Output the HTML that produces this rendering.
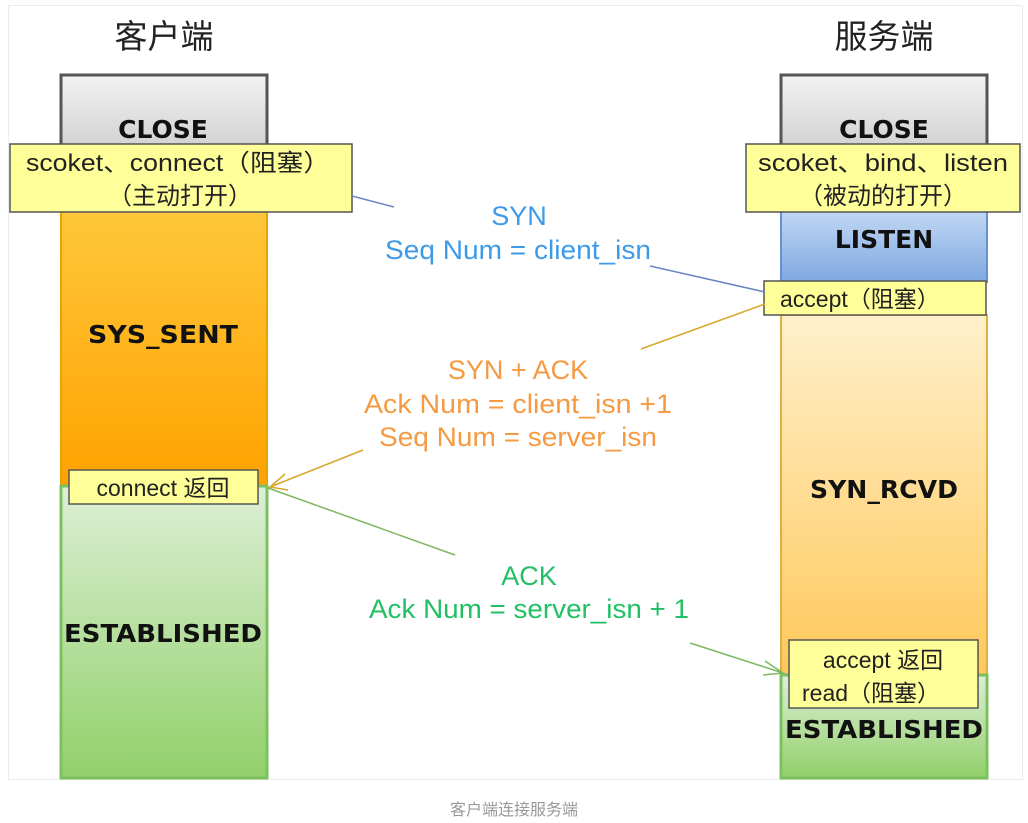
<!DOCTYPE html>
<html><head><meta charset="utf-8"><style>
html,body{margin:0;padding:0;background:#fff;width:1028px;height:823px;overflow:hidden}
text{font-family:"Liberation Sans","Noto Sans CJK SC",sans-serif}
.st{font-family:"DejaVu Sans","Liberation Sans",sans-serif;font-weight:bold;font-size:25px;fill:#111}
</style></head><body>
<svg width="1028" height="823" xmlns="http://www.w3.org/2000/svg">
<defs>
<linearGradient id="gray" x1="0" y1="0" x2="0" y2="1"><stop offset="0" stop-color="#f2f2f2"/><stop offset="1" stop-color="#cfcfcf"/></linearGradient>
<linearGradient id="org" x1="0" y1="0" x2="0" y2="1"><stop offset="0" stop-color="#ffc73a"/><stop offset="1" stop-color="#ffa200"/></linearGradient>
<linearGradient id="grn" x1="0" y1="0" x2="0" y2="1"><stop offset="0" stop-color="#dcefd6"/><stop offset="1" stop-color="#92d06a"/></linearGradient>
<linearGradient id="blu" x1="0" y1="0" x2="0" y2="1"><stop offset="0" stop-color="#c2d8f4"/><stop offset="1" stop-color="#7fa8e0"/></linearGradient>
<linearGradient id="lorg" x1="0" y1="0" x2="0" y2="1"><stop offset="0" stop-color="#fff0cc"/><stop offset="1" stop-color="#ffc85a"/></linearGradient>
</defs>
<rect x="8.5" y="5.5" width="1014" height="774" fill="#fff" stroke="#ebebeb"/>
<text x="164" y="48" font-size="33" text-anchor="middle" fill="#222">客户端</text>
<text x="884" y="48" font-size="33" text-anchor="middle" fill="#222">服务端</text>

<rect x="61" y="75" width="206" height="80" fill="url(#gray)" stroke="#555" stroke-width="3"/>
<rect x="61" y="210" width="206" height="276" fill="url(#org)" stroke="#e6a400" stroke-width="2"/>
<rect x="61" y="486" width="206" height="292" fill="url(#grn)" stroke="#7cc060" stroke-width="3"/>
<text class="st" x="163" y="138" text-anchor="middle">CLOSE</text>
<text class="st" x="163" y="343" text-anchor="middle" textLength="150" lengthAdjust="spacingAndGlyphs">SYS_SENT</text>
<text class="st" x="163" y="642" text-anchor="middle" textLength="198" lengthAdjust="spacingAndGlyphs">ESTABLISHED</text>
<rect x="10" y="144" width="342" height="68" fill="#ffff99" stroke="#555" stroke-width="1.5"/>
<text x="178" y="171" font-size="24" text-anchor="middle" fill="#222" textLength="304" lengthAdjust="spacingAndGlyphs">scoket、connect（阻塞）</text>
<text x="180" y="204" font-size="24" text-anchor="middle" fill="#222">（主动打开）</text>
<rect x="69" y="470" width="189" height="34" fill="#ffff99" stroke="#555" stroke-width="1.5"/>
<text x="163" y="496" font-size="23" text-anchor="middle" fill="#222">connect 返回</text>

<rect x="781" y="75" width="206" height="80" fill="url(#gray)" stroke="#555" stroke-width="3"/>
<rect x="781" y="210" width="206" height="72" fill="url(#blu)" stroke="#6a8fcf" stroke-width="2"/>
<rect x="781" y="315" width="206" height="360" fill="url(#lorg)" stroke="#e0b040" stroke-width="2"/>
<rect x="781" y="675" width="206" height="103" fill="url(#grn)" stroke="#7cc060" stroke-width="3"/>
<text class="st" x="884" y="138" text-anchor="middle">CLOSE</text>
<text class="st" x="884" y="248" text-anchor="middle">LISTEN</text>
<text class="st" x="884" y="498" text-anchor="middle" textLength="148" lengthAdjust="spacingAndGlyphs">SYN_RCVD</text>
<text class="st" x="884" y="738" text-anchor="middle" textLength="198" lengthAdjust="spacingAndGlyphs">ESTABLISHED</text>
<rect x="746" y="144" width="274" height="68" fill="#ffff99" stroke="#555" stroke-width="1.5"/>
<text x="883" y="171" font-size="24" text-anchor="middle" fill="#222" textLength="250" lengthAdjust="spacingAndGlyphs">scoket、bind、listen</text>
<text x="883" y="204" font-size="24" text-anchor="middle" fill="#222">（被动的打开）</text>
<rect x="764" y="281" width="222" height="34" fill="#ffff99" stroke="#555" stroke-width="1.5"/>
<text x="780" y="307" font-size="23" fill="#222">accept（阻塞）</text>
<rect x="789" y="640" width="189" height="68" fill="#ffff99" stroke="#555" stroke-width="1.5"/>
<text x="883" y="668" font-size="23" text-anchor="middle" fill="#222">accept 返回</text>
<text x="802" y="701" font-size="23" fill="#222">read（阻塞）</text>

<g stroke-width="1.5" fill="none">
<line x1="352" y1="196" x2="394" y2="207" stroke="#6a84c4"/>
<line x1="650" y1="266" x2="765" y2="292" stroke="#6a84c4"/>
<line x1="765" y1="304" x2="641" y2="349" stroke="#d8a628"/>
<line x1="363" y1="450" x2="270" y2="487" stroke="#d8a628"/>
<polyline points="285,474 270,487 288,490" stroke="#d8a628"/>
<line x1="268" y1="488" x2="455" y2="555" stroke="#7cb860"/>
<line x1="690" y1="643" x2="783" y2="673" stroke="#7cb860"/>
<polyline points="765,661 783,673 763,675" stroke="#7cb860"/>
</g>

<g font-size="27" text-anchor="middle">
<text x="519" y="225" fill="#3d9ae8">SYN</text>
<text x="518" y="259" fill="#3d9ae8" textLength="266" lengthAdjust="spacingAndGlyphs">Seq Num = client_isn</text>
<text x="518" y="379" fill="#f59a42">SYN + ACK</text>
<text x="518" y="413" fill="#f59a42" textLength="308" lengthAdjust="spacingAndGlyphs">Ack Num =  client_isn +1</text>
<text x="518" y="446" fill="#f59a42" textLength="278" lengthAdjust="spacingAndGlyphs">Seq Num = server_isn</text>
<text x="529" y="585" fill="#22c065">ACK</text>
<text x="529" y="618" fill="#22c065" textLength="320" lengthAdjust="spacingAndGlyphs">Ack Num = server_isn + 1</text>
</g>
<text x="514" y="815" font-size="16" text-anchor="middle" fill="#999">客户端连接服务端</text>
</svg>
</body></html>
